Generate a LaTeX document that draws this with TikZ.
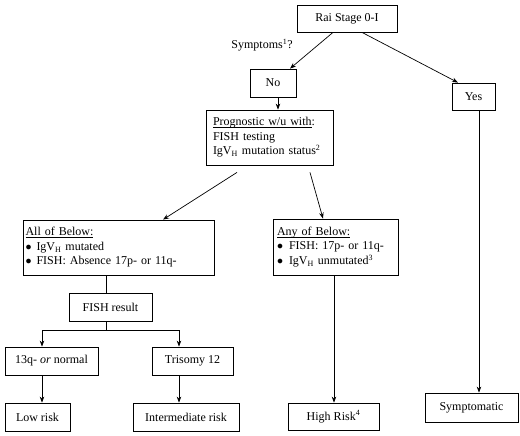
\documentclass[tikz,border=0pt]{standalone}
\usepackage{fontspec}
\setmainfont{Liberation Serif}
\usetikzlibrary{calc,arrows.meta}
\newcommand{\myul}[1]{\setbox0\hbox{#1}\rlap{\rule[-1.6pt]{\wd0}{0.5pt}}\box0}
\newcommand{\mybul}{\raisebox{0.2pt}{$\bullet$}}
\begin{document}
\begin{tikzpicture}[x=1pt,y=-1pt,
  box/.style={draw,line width=0.8pt,rectangle,inner sep=0pt,font=\fontsize{12}{14}\selectfont},
  mbox/.style={draw,line width=0.8pt,rectangle,inner ysep=0pt,align=left,font=\fontsize{12}{14.5}\selectfont},
  conn/.style={line width=0.7pt},
  arr/.style={line width=0.7pt,-{Stealth[length=6pt,width=4.5pt]}},
  lbl/.style={font=\fontsize{12}{14}\selectfont,inner sep=0pt}]
\useasboundingbox (0,0) rectangle (520,436);
% single-line boxes
\node[box,minimum width=100pt,minimum height=27pt] (rai) at (347,18.5) {Rai Stage 0-I};
\node[box,minimum width=46pt,minimum height=28pt] (no) at (273,83) {No};
\node[box,minimum width=43pt,minimum height=27pt] (yes) at (473.5,96.5) {Yes};
\node[box,minimum width=83pt,minimum height=28pt] (fish) at (110.5,307) {FISH result};
\node[box,minimum width=93pt,minimum height=28pt] (q13) at (51.5,361) {13q- \textit{or} normal};
\node[box,minimum width=81pt,minimum height=28pt] (tri) at (192.5,361) {Trisomy 12};
\node[box,minimum width=65pt,minimum height=28pt] (low) at (37.5,417) {Low risk};
\node[box,minimum width=106pt,minimum height=28pt] (inter) at (186,417) {Intermediate risk};
\node[box,minimum width=91pt,minimum height=27pt] (high) at (333.5,416.5) {High Risk\textsuperscript{4}};
\node[box,minimum width=93pt,minimum height=29pt] (symp) at (471.5,407.5) {Symptomatic};
% multi-line boxes
\node[mbox,inner xsep=7pt,text width=113pt,minimum height=55pt] (prog) at (269.5,137.5)
  {\myul{Prognostic w/u with}:\\FISH testing\\IgV\textsubscript{H} mutation status\textsuperscript{2}};
\node[mbox,inner xsep=2.5pt,text width=186pt,minimum height=55pt] (all) at (118.5,247.5)
  {\myul{All of Below:}\\\mybul\hspace{5pt}IgV\textsubscript{H} mutated\\\mybul\hspace{5pt}FISH: Absence 17p- or 11q-};
\node[mbox,inner xsep=4pt,text width=117pt,minimum height=56pt] (any) at (335.5,247)
  {\myul{Any of Below:}\\\mybul\hspace{6pt}FISH: 17p- or 11q-\\\mybul\hspace{6pt}IgV\textsubscript{H} unmutated\textsuperscript{3}};
% label
\node[lbl] (sym) at (262,45) {Symptoms\textsuperscript{1}?};
% connectors
\draw[arr] ($(rai.south)+(-14,0)$) -- ($(no.north)+(17,0)$);
\draw[arr] ($(rai.south)+(15,0)$) -- ($(yes.north)+(-15.5,0)$);
\draw[arr] ($(no.south)+(5,0)$) -- ($(prog.north)+(8.5,0)$);
\coordinate (p1) at ($(prog.south)+(-32.5,7)$);
\coordinate (p2) at ($(prog.south)+(40.5,7)$);
\draw[arr] (p1) -- ($(all.north)+(44.5,0)$);
\draw[arr] (p2) -- ($(any.north)+(-12.5,0)$);
\draw[arr] ($(yes.south)+(5.5,0)$) -- ($(symp.north)+(7.5,0)$);
\draw[conn] ($(all.south)+(-12.5,0)$) -- ($(fish.north)+(-4.5,0)$);
\coordinate (j) at ($(fish.south)+(-4.5,9)$);
\draw[conn] ($(fish.south)+(-4.5,0)$) -- (j);
\draw[arr] (j) -| ($(q13.north)+(-9.5,0)$);
\draw[arr] (j) -| ($(tri.north)+(-13.5,0)$);
\draw[arr] ($(q13.south)+(-9.5,0)$) -- ($(low.north)+(4.5,0)$);
\draw[arr] ($(tri.south)+(-13.5,0)$) -- ($(inter.north)+(-7,0)$);
\draw[arr] ($(any.south)+(-1.5,0)$) -- ($(high.north)+(0.5,0)$);
\end{tikzpicture}
\end{document}
